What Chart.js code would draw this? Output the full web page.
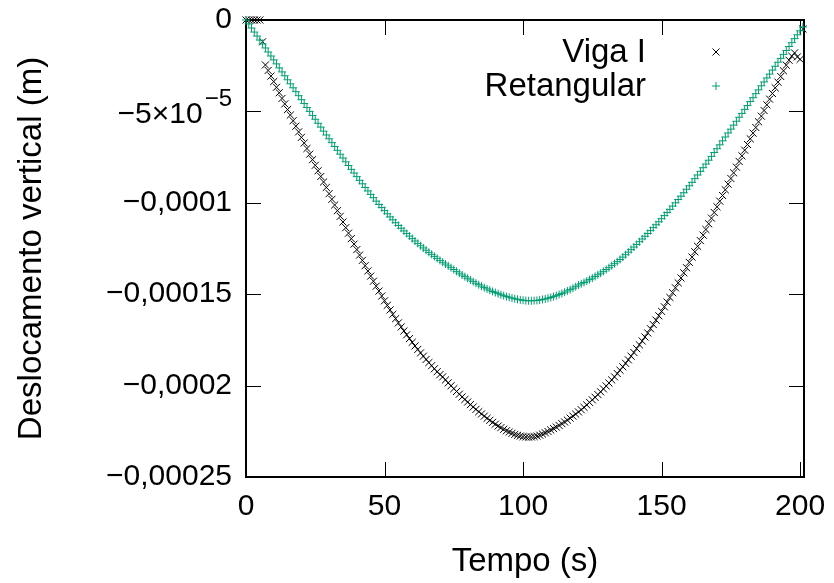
<!DOCTYPE html>
<html><head><meta charset="utf-8">
<script src="https://cdn.jsdelivr.net/npm/chart.js@4/dist/chart.umd.min.js"></script>
<style>html,body{margin:0;padding:0;background:#fff}canvas{display:block}</style>
</head><body>
<canvas id="c" width="834" height="583"></canvas>
<script>
// Time axis (s): samples every second starting at 0
const timeStart = 0;
const timeStep = 1;
// Values in units of 1e-5 m
const valueUnit = 1e-5;
const vigaI = [0,0,0,0,0,0,-1.19,-2.46,-2.76,-3.07,-3.37,-3.68,-3.98,-4.29,-4.59,-4.90,-5.20,-5.51,-5.81,-6.12,-6.42,-6.73,-7.03,-7.34,-7.64,-7.95,-8.25,-8.56,-8.86,-9.16,
-9.50,-9.81,-10.12,-10.43,-10.74,-11.05,-11.36,-11.66,-11.96,-12.26,-12.56,-12.86,-13.15,-13.44,-13.73,-14.01,-14.29,-14.56,-14.83,-15.10,
-15.36,-15.61,-15.86,-16.10,-16.34,-16.57,-16.79,-17.01,-17.22,-17.43,-17.63,-17.83,-18.02,-18.21,-18.39,-18.57,-18.74,-18.91,-19.08,-19.24,
-19.40,-19.52,-19.69,-19.85,-20.01,-20.17,-20.32,-20.47,-20.62,-20.76,-20.90,-21.04,-21.17,-21.30,-21.43,-21.55,-21.67,-21.79,-21.90,-22.01,
-22.11,-22.21,-22.30,-22.39,-22.47,-22.54,-22.61,-22.67,-22.72,-22.76,-22.79,-22.81,-22.82,-22.81,-22.79,-22.76,-22.71,-22.65,-22.58,-22.51,
-22.43,-22.35,-22.27,-22.18,-22.08,-21.99,-21.89,-21.78,-21.67,-21.56,-21.44,-21.32,-21.19,-21.06,-20.92,-20.78,-20.64,-20.49,-20.34,-20.18,
-20.02,-19.86,-19.69,-19.52,-19.34,-19.16,-18.97,-18.78,-18.59,-18.39,-18.19,-17.98,-17.77,-17.56,-17.34,-17.12,-16.89,-16.66,-16.42,-16.18,
-15.94,-15.69,-15.43,-15.18,-14.92,-14.65,-14.38,-14.11,-13.83,-13.55,-13.26,-12.97,-12.68,-12.38,-12.07,-11.77,-11.46,-11.15,-10.84,-10.53,
-10.22,-9.91,-9.60,-9.29,-8.98,-8.67,-8.36,-8.05,-7.74,-7.43,-7.12,-6.81,-6.50,-6.19,-5.88,-5.57,-5.26,-4.95,-4.64,-4.33,
-4.02,-3.71,-3.40,-3.09,-2.78,-2.47,-2.20,-1.98,-1.80,-2.02,-2.15,-0.49];
const retangular = [0,-0.22,-0.44,-0.66,-0.88,-1.10,-1.31,-1.53,-1.75,-1.97,-2.18,-2.40,-2.62,-2.84,-3.05,-3.27,-3.49,-3.71,-3.92,-4.14,
-4.36,-4.57,-4.79,-5.00,-5.22,-5.43,-5.65,-5.86,-6.08,-6.29,-6.50,-6.71,-6.92,-7.13,-7.34,-7.55,-7.76,-7.96,-8.17,-8.37,
-8.57,-8.77,-8.96,-9.16,-9.35,-9.54,-9.72,-9.91,-10.09,-10.26,-10.43,-10.60,-10.77,-10.93,-11.09,-11.24,-11.39,-11.54,-11.68,-11.82,
-11.96,-12.09,-12.22,-12.35,-12.47,-12.59,-12.71,-12.82,-12.93,-13.04,-13.15,-13.25,-13.35,-13.45,-13.55,-13.65,-13.75,-13.85,-13.95,-14.04,
-14.13,-14.22,-14.31,-14.40,-14.48,-14.56,-14.64,-14.71,-14.78,-14.85,-14.91,-14.97,-15.03,-15.08,-15.13,-15.17,-15.21,-15.25,-15.28,-15.31,
-15.33,-15.35,-15.36,-15.36,-15.35,-15.34,-15.32,-15.29,-15.26,-15.22,-15.18,-15.13,-15.08,-15.02,-14.96,-14.89,-14.82,-14.75,-14.67,-14.59,
-14.50,-14.43,-14.36,-14.28,-14.20,-14.12,-14.03,-13.94,-13.85,-13.75,-13.65,-13.55,-13.44,-13.33,-13.22,-13.10,-12.97,-12.84,-12.70,-12.56,
-12.42,-12.28,-12.13,-11.98,-11.83,-11.68,-11.52,-11.36,-11.20,-11.04,-10.87,-10.70,-10.53,-10.36,-10.18,-10.00,-9.82,-9.64,-9.45,-9.26,
-9.07,-8.88,-8.68,-8.48,-8.28,-8.08,-7.88,-7.67,-7.46,-7.25,-7.04,-6.83,-6.61,-6.40,-6.18,-5.97,-5.75,-5.54,-5.32,-5.11,
-4.89,-4.68,-4.46,-4.25,-4.03,-3.82,-3.60,-3.39,-3.17,-2.96,-2.74,-2.53,-2.31,-2.10,-1.88,-1.67,-1.45,-1.24,-1.02,-0.81,
-0.59,-0.38];
const seriesNames = ['Viga I', 'Retangular'];
const seriesColors = ['#000000', '#009e73'];
const xTickValues = [0, 50, 100, 150, 200];
const xTickLabels = ['0', '50', '100', '150', '200'];
const yTickValues = [-0.00025, -0.0002, -0.00015, -0.0001, -0.00005, 0];
const yTickLabels = ['\u22120,00025', '\u22120,0002', '\u22120,00015', '\u22120,0001', '', '0'];
const ySciTick = { value: -0.00005, base: '\u22125\u00d710', exp: '\u22125' };
const xRange = [0, 201.4];
const yRange = [-0.00025, 0];

const toPoints = arr => arr.map((v, i) => ({ x: timeStart + i * timeStep, y: v * valueUnit }));

const FONT = '"Liberation Sans", Arial, sans-serif';
const TICK_FONT = 30;
const TITLE_FONT = 33;

const framePlugin = {
  id: 'frame',
  beforeDatasetsDraw(chart) {
    const { ctx, chartArea: a, scales: { x, y } } = chart;
    ctx.save();
    ctx.strokeStyle = '#000';
    ctx.lineWidth = 1;
    const tl = 15;
    ctx.beginPath();
    xTickValues.forEach(v => {
      const px = Math.round(x.getPixelForValue(v)) + 0.5;
      ctx.moveTo(px, a.bottom); ctx.lineTo(px, a.bottom - tl);
      ctx.moveTo(px, a.top); ctx.lineTo(px, a.top + tl);
    });
    yTickValues.forEach(v => {
      const py = Math.round(y.getPixelForValue(v)) + 0.5;
      ctx.moveTo(a.left, py); ctx.lineTo(a.left + tl, py);
      ctx.moveTo(a.right, py); ctx.lineTo(a.right - tl, py);
    });
    ctx.stroke();
    ctx.lineWidth = 2;
    ctx.strokeRect(a.left, a.top, a.right - a.left, a.bottom - a.top);
    ctx.restore();
  },
  afterDraw(chart) {
    const { ctx, scales: { y } } = chart;
    ctx.save();
    ctx.fillStyle = '#000';
    // scientific tick label with superscript
    const py = y.getPixelForValue(ySciTick.value);
    const right = y.right - 14;
    ctx.font = `24px ${FONT}`;
    ctx.textAlign = 'right';
    ctx.textBaseline = 'middle';
    const ew = ctx.measureText(ySciTick.exp).width;
    ctx.fillText(ySciTick.exp, right, py - 12);
    ctx.font = `${TICK_FONT}px ${FONT}`;
    ctx.fillText(ySciTick.base, right - ew - 2, py + 3);
    // legend
    ctx.font = `${TITLE_FONT}px ${FONT}`;
    const rows = [{ y: 52 }, { y: 86 }];
    seriesNames.forEach((name, i) => {
      const ry = rows[i].y;
      ctx.fillStyle = '#000';
      ctx.textAlign = 'right';
      ctx.fillText(name, 646, ry + 1);
      ctx.strokeStyle = seriesColors[i];
      ctx.lineWidth = 1;
      ctx.beginPath();
      const mx = 716;
      if (i === 0) {
        ctx.moveTo(mx - 3.5, ry - 3.5); ctx.lineTo(mx + 3.5, ry + 3.5);
        ctx.moveTo(mx - 3.5, ry + 3.5); ctx.lineTo(mx + 3.5, ry - 3.5);
      } else {
        ctx.moveTo(mx - 4, ry); ctx.lineTo(mx + 4, ry);
        ctx.moveTo(mx, ry - 4); ctx.lineTo(mx, ry + 4);
      }
      ctx.stroke();
    });
    ctx.restore();
  }
};

new Chart(document.getElementById('c'), {
  type: 'scatter',
  data: {
    datasets: [
      { label: seriesNames[0], data: toPoints(vigaI), showLine: false, pointStyle: 'crossRot', pointRadius: 5,
        borderColor: seriesColors[0], backgroundColor: seriesColors[0], pointBorderWidth: 1, clip: false, order: 2 },
      { label: seriesNames[1], data: toPoints(retangular), showLine: false, pointStyle: 'cross', pointRadius: 4,
        borderColor: seriesColors[1], backgroundColor: seriesColors[1], pointBorderWidth: 1, clip: false, order: 1 }
    ]
  },
  options: {
    responsive: false,
    animation: false,
    devicePixelRatio: 1,
    layout: { padding: { top: 20, right: 30, left: 0, bottom: 0 } },
    plugins: { legend: { display: false }, tooltip: { enabled: false } },
    elements: { point: { hoverRadius: 5 } },
    scales: {
      x: {
        type: 'linear', min: xRange[0], max: xRange[1],
        afterBuildTicks: s => { s.ticks = xTickValues.map(v => ({ value: v })); },
        afterFit: s => { s.height = 106; s.paddingLeft = 0; s.paddingRight = 0; },
        grid: { display: false, drawTicks: false },
        border: { display: false },
        ticks: { color: '#000', font: { family: FONT, size: TICK_FONT }, padding: 12, maxRotation: 0,
          callback: (v, i) => xTickLabels[i] },
        title: { display: true, text: 'Tempo (s)', color: '#000', font: { family: FONT, size: TITLE_FONT },
          padding: { top: 0, bottom: 1 } }
      },
      y: {
        type: 'linear', min: yRange[0], max: yRange[1],
        afterBuildTicks: s => { s.ticks = yTickValues.map(v => ({ value: v })); },
        afterFit: s => { s.width = 246; s.paddingTop = 0; s.paddingBottom = 0; },
        grid: { display: false, drawTicks: false },
        border: { display: false },
        ticks: { color: '#000', font: { family: FONT, size: TICK_FONT }, padding: 14,
          callback: (v, i) => yTickLabels[i] },
        title: { display: true, text: 'Deslocamento vertical (m)', color: '#000', font: { family: FONT, size: TITLE_FONT },
          padding: { top: 12, bottom: 0 } }
      }
    }
  },
  plugins: [framePlugin]
});
</script>
</body></html>
